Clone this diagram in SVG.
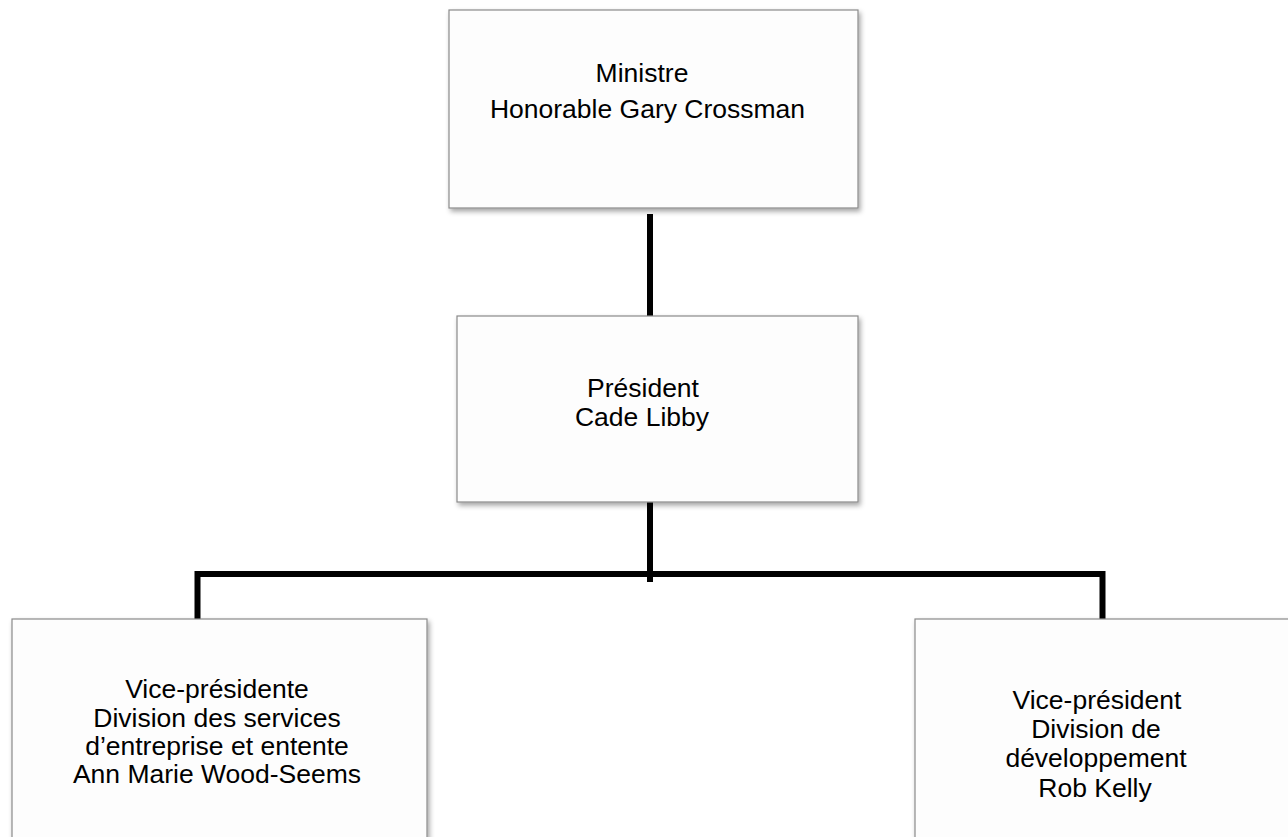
<svg xmlns="http://www.w3.org/2000/svg" width="1288" height="837" viewBox="0 0 1288 837">
  <defs>
    <filter id="shadow" x="-5%" y="-5%" width="115%" height="120%">
      <feDropShadow dx="2" dy="3" stdDeviation="2.5" flood-color="#000" flood-opacity="0.35"/>
    </filter>
  </defs>
  <style>
    .box { fill: #fdfdfd; stroke: #8a8a8a; stroke-width: 1.2; filter: url(#shadow); }
    .lbl { font-family: "Liberation Sans", Arial, sans-serif; font-size: 26.5px; fill: #000; text-anchor: middle; }
    .conn { fill: none; stroke: #000; stroke-width: 6; stroke-linejoin: miter; stroke-linecap: butt; }
  </style>
  <rect width="1288" height="837" fill="#ffffff"/>

  <g id="connectors">
    <line class="conn" x1="650" y1="214" x2="650" y2="316"/>
    <line class="conn" x1="650" y1="502" x2="650" y2="582"/>
    <polyline class="conn" points="197.5,619 197.5,574 1102.5,574 1102.5,619"/>
  </g>

  <g id="ministre">
    <rect class="box" x="449" y="10" width="409" height="198"/>
    <text class="lbl" x="642" y="82">Ministre</text>
    <text class="lbl" x="647.5" y="118">Honorable Gary Crossman</text>
  </g>

  <g id="president">
    <rect class="box" x="457" y="316" width="401" height="186"/>
    <text class="lbl" x="643" y="397">Président</text>
    <text class="lbl" x="642" y="426">Cade Libby</text>
  </g>

  <g id="vp-services">
    <rect class="box" x="12" y="619" width="415" height="240"/>
    <text class="lbl" x="217" y="698">Vice-présidente</text>
    <text class="lbl" x="217" y="727">Division des services</text>
    <text class="lbl" x="217" y="755">d’entreprise et entente</text>
    <text class="lbl" x="217" y="783">Ann Marie Wood-Seems</text>
  </g>

  <g id="vp-developpement">
    <rect class="box" x="915" y="619" width="400" height="240"/>
    <text class="lbl" x="1097" y="709">Vice-président</text>
    <text class="lbl" x="1096" y="738">Division de</text>
    <text class="lbl" x="1096" y="767">développement</text>
    <text class="lbl" x="1095" y="797">Rob Kelly</text>
  </g>
</svg>
